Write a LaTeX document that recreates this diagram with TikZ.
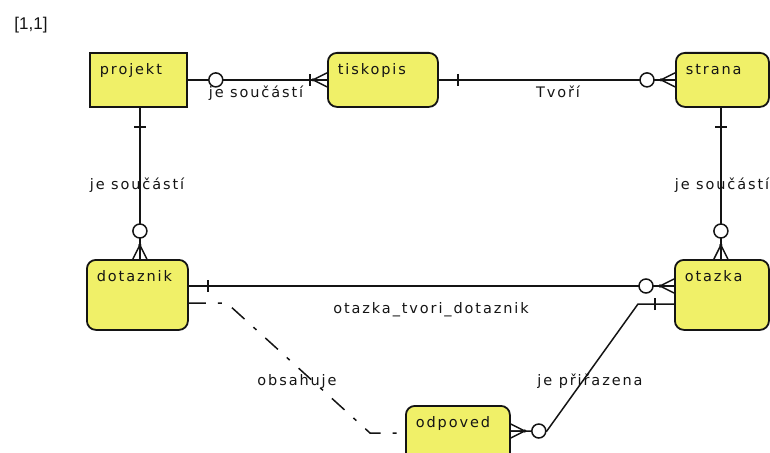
\documentclass[tikz,border=0pt]{standalone}
\usepackage{fontspec}
\newfontfamily\erfont[LetterSpace=13]{DejaVu Sans}
\newfontfamily\tagfont{Liberation Sans}
\usetikzlibrary{calc}
\definecolor{entfill}{RGB}{240,240,104}
\definecolor{ink}{RGB}{20,20,20}

\tikzset{
  x=1pt, y=-1pt,
  erfontsize/.style={font=\erfont\fontsize{14.5}{17}\selectfont},
  entity/.style={draw=ink, line width=1.8pt, fill=entfill, anchor=north west,
    inner xsep=10pt, inner ysep=12pt, text height=10pt, text depth=20pt,
    align=left, erfontsize, text=ink},
  tall/.style={text depth=36pt},
  roundbox/.style={rounded corners=9pt},
  conn/.style={draw=ink, line width=1.5pt},
  dashconn/.style={conn, dash pattern=on 17pt off 12pt on 4pt off 12pt},
  relname/.style={erfontsize, text=ink, inner sep=0pt},
  % cardinality marks, local +x points away from the entity along the line
  bar/.pic={\draw[conn] (19,-6) -- (19,6);},
  ring/.pic={\draw[conn, fill=white] (28,0) circle[radius=7pt];},
  zeromany/.pic={
    \draw[conn] (0,-7) -- (14,0) -- (0,7) (0,0) -- (14,0);
    \fill[ink] (14,0) circle[radius=1.8pt];
    \draw[conn, fill=white] (28,0) circle[radius=7pt];},
  onemany/.pic={
    \draw[conn] (0,-7) -- (14,0) -- (0,7) (0,0) -- (14,0);
    \fill[ink] (14,0) circle[radius=1.8pt];
    \draw[conn] (17,-6) -- (17,6);},
}

\begin{document}
\begin{tikzpicture}
\useasboundingbox (0,0) rectangle (770,452);
\clip (0,0) rectangle (770,452);

% diagram caption
\node[font=\tagfont\fontsize{17}{20}\selectfont, text=ink, inner sep=0pt] (tag) at (31,25) {[1,1]};

% entities
\node[entity, text width=77pt] (projekt) at (89,52) {projekt};
\node[entity, roundbox, text width=90pt] (tiskopis) at (327,52) {tiskopis};
\node[entity, roundbox, text width=73pt] (strana) at (675,52) {strana};
\node[entity, roundbox, tall, text width=81pt] (dotaznik) at (86,259) {dotaznik};
\node[entity, roundbox, tall, text width=74pt] (otazka) at (674,259) {otazka};
\node[entity, roundbox, tall, text width=84pt] (odpoved) at (405,405) {odpoved};

% projekt -- tiskopis
\draw[conn] (projekt.east) -- (tiskopis.west);
\pic at (projekt.east) {ring};
\pic[rotate=180] at (tiskopis.west) {onemany};

% tiskopis -- strana
\draw[conn] (tiskopis.east) -- (tiskopis.east -| strana.west);
\pic at (tiskopis.east) {bar};
\pic[rotate=180] at (tiskopis.east -| strana.west) {zeromany};

% projekt -- dotaznik
\coordinate (pa) at ([xshift=1.5pt]projekt.south);
\draw[conn] (pa) -- (pa |- dotaznik.north);
\pic[rotate=-90] at (pa) {bar};
\pic[rotate=90] at (pa |- dotaznik.north) {zeromany};

% strana -- otazka
\coordinate (sa) at ([xshift=-1.5pt]strana.south);
\draw[conn] (sa) -- (sa |- otazka.north);
\pic[rotate=-90] at (sa) {bar};
\pic[rotate=90] at (sa |- otazka.north) {zeromany};

% dotaznik -- otazka
\coordinate (qa) at ([yshift=-27pt]dotaznik.north east);
\draw[conn] (qa) -- (qa -| otazka.west);
\pic at (qa) {bar};
\pic[rotate=180] at (qa -| otazka.west) {zeromany};

% dotaznik -- odpoved (dashed)
\coordinate (da) at ([yshift=-44pt]dotaznik.north east);
\coordinate (db) at ([yshift=-28pt]odpoved.north west);
\draw[dashconn] (da) -- ++(38,0) -- ($(db)+(-35,0)$) -- (db);

% odpoved -- otazka
\coordinate (oa) at ([yshift=-26pt]odpoved.north east);
\coordinate (ob) at ([yshift=-45pt]otazka.north west);
\draw[conn] (oa) -- ++(36,0) -- ($(ob)+(-36,0)$) -- (ob);
\pic at (oa) {zeromany};
\pic[rotate=180] at (ob) {bar};

% relationship names
\node[relname] (r1) at (256,93) {je součástí};
\node[relname] (r2) at (558,92) {Tvoří};
\node[relname] (r3) at (137,185) {je součástí};
\node[relname] (r4) at (722,185) {je součástí};
\node[relname] (r5) at (431,310) {otazka\_tvori\_dotaznik};
\node[relname] (r6) at (297,381) {obsahuje};
\node[relname] (r7) at (590,381) {je přiřazena};
\end{tikzpicture}
\end{document}
